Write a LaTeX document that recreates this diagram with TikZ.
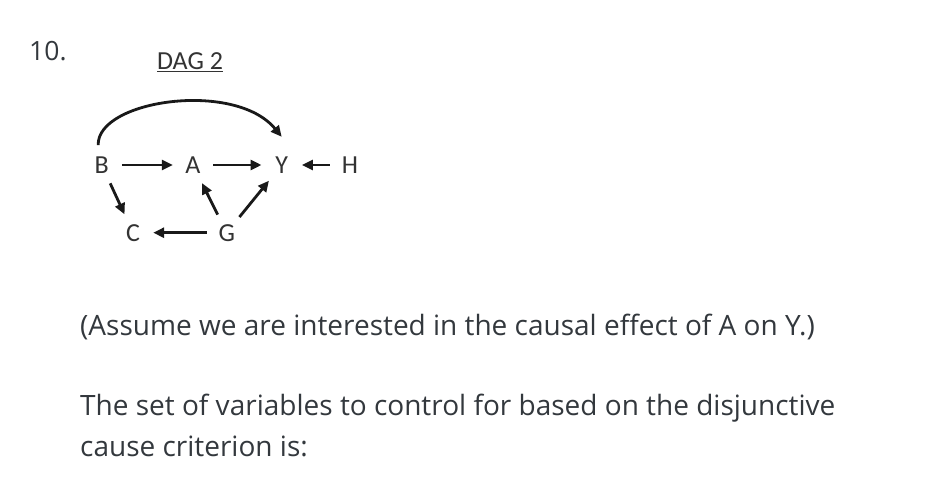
\documentclass[tikz,border=0pt]{standalone}
\usepackage{fontspec}
\setmainfont{Open Sans}
\newfontfamily\dagfont{Carlito}
\usetikzlibrary{arrows.meta,calc}
\definecolor{txt}{HTML}{33383D}
\tikzset{
  var/.style={circle,minimum size=40pt,inner sep=0pt,font=\dagfont\fontsize{26}{30}\selectfont,text=black!80},
  edge/.style={line width=2.8pt,-{Triangle[length=11pt,width=10pt]},black!90},
  body/.style={anchor=base west,inner sep=0pt,font=\fontsize{28}{34}\selectfont,text=txt}
}
\begin{document}
\begin{tikzpicture}[x=1pt,y=-1pt]
\useasboundingbox (0,0) rectangle (952,500);
\node[body,font=\fontsize{26.5}{32}\selectfont] (num) at (29,61) {10.};
\node[anchor=base,inner sep=0pt,font=\dagfont\fontsize{26}{30}\selectfont,text=black!80] (title) at (190,70) {\underline{DAG 2}};
\node[var] (B) at (101.7,165) {B};
\node[var] (A) at (193,165) {A};
\node[var] (Y) at (281.7,165) {Y};
\node[var] (H) at (350,165) {H};
\node[var] (C) at (133,232.7) {C};
\node[var] (G) at (226.7,232.7) {G};
\draw[edge] (B) -- (A);
\draw[edge] (A) -- (Y);
\draw[edge] (H) -- (Y);
\draw[edge] (B) -- (C);
\draw[edge] (G) -- (C);
\draw[edge] (G) -- (A);
\draw[edge] (G) -- (Y);
\draw[edge] (B.100) .. controls (96.7,100) and (235,80) .. ([yshift=8pt]Y.north);
\node[body] (t1) at (80,335) {(Assume we are interested in the causal effect of A on Y.)};
\node[body] (t2) at (80,415) {The set of variables to control for based on the disjunctive};
\node[body] (t3) at (80,456) {cause criterion is:};
\end{tikzpicture}
\end{document}
